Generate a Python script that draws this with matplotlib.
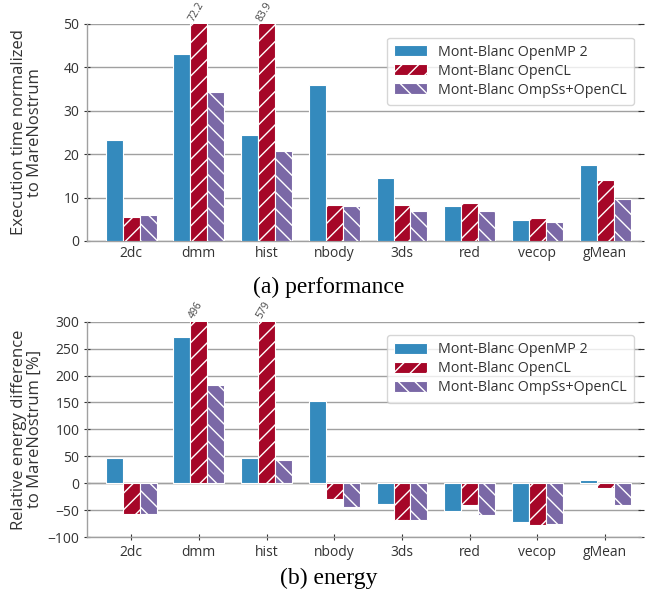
import numpy as np
import matplotlib
matplotlib.use('Agg')
import matplotlib.pyplot as plt

plt.rcParams['font.family'] = ['Open Sans', 'DejaVu Sans']
plt.rcParams['hatch.color'] = 'white'
plt.rcParams['hatch.linewidth'] = 1.0

benchmarks = ['2dc', 'dmm', 'hist', 'nbody', '3ds', 'red', 'vecop', 'gMean']
series = ['Mont-Blanc OpenMP 2', 'Mont-Blanc OpenCL', 'Mont-Blanc OmpSs+OpenCL']

perf_openmp = [23.2, 43.1, 24.5, 36.0, 14.4, 8.0, 4.9, 17.5]
perf_opencl = [5.5, 72.2, 83.9, 8.2, 8.2, 8.7, 5.4, 14.0]
perf_ompss = [5.9, 34.3, 20.8, 8.0, 6.9, 6.8, 4.3, 9.6]

energy_openmp = [47, 272, 47, 152, -39, -52, -72, 6]
energy_opencl = [-58, 496, 579, -29, -69, -41, -77, -9]
energy_ompss = [-57, 183, 43, -45, -68, -59, -75, -40]

colors = ['#348ABD', '#A60628', '#7A68A6']
hatches = ['', '//', '\\\\']

fig = plt.figure(figsize=(6.45, 5.98), dpi=100)
ax1 = fig.add_axes([0.135, 0.597, 0.859, 0.363])
ax2 = fig.add_axes([0.135, 0.102, 0.859, 0.360])


def draw(ax, data, ylim, yticks, ylabel, show_xticks):
    x = np.arange(len(benchmarks))
    w = 0.25
    for k, vals in enumerate(data):
        ax.bar(x + (k - 1) * w, vals, w, color=colors[k], hatch=hatches[k],
               edgecolor='white', linewidth=0.8, label=series[k], zorder=3)
        for i, v in enumerate(vals):
            if v > ylim[1]:
                ax.text(x[i] + (k - 1) * w - 0.04, ylim[1] + (ylim[1] - ylim[0]) * 0.004,
                        '%g' % v, rotation=60, ha='left', va='bottom',
                        fontsize=7.5, color='#444444', rotation_mode='anchor')
    ax.set_xlim(-0.65, 7.53)
    ax.set_ylim(*ylim)
    ax.set_yticks(yticks)
    ax.set_xticks(x)
    ax.set_xticklabels(benchmarks, fontsize=10, color='#333333')
    ax.tick_params(axis='y', labelsize=10, labelcolor='#333333', length=4,
                   color='#333333', right=True, direction='inout')
    if show_xticks:
        ax.tick_params(axis='x', length=5, color='#333333', direction='inout')
    else:
        ax.tick_params(axis='x', length=0)
    ax.grid(axis='y', color='#a0a0a0', linewidth=1.0, zorder=0)
    ax.set_axisbelow(True)
    for s in ['top', 'right']:
        ax.spines[s].set_visible(False)
    for s in ['left', 'bottom']:
        ax.spines[s].set_color('#a0a0a0')
        ax.spines[s].set_linewidth(1.0)
    ax.set_ylabel(ylabel, fontsize=12, color='#333333', linespacing=1.05)
    ax.yaxis.set_label_coords(-0.079, 0.5)
    leg = ax.legend(loc='upper right', fontsize=10.3, frameon=True, fancybox=True,
                    handlelength=2.3, handleheight=0.8, borderpad=0.5,
                    labelspacing=0.28, bbox_to_anchor=(1.0, 0.97))
    leg.get_frame().set_edgecolor('#cccccc')
    for t in leg.get_texts():
        t.set_color('#333333')


draw(ax1, [perf_openmp, perf_opencl, perf_ompss], (0, 50), [0, 10, 20, 30, 40, 50],
     'Execution time normalized\nto MareNostrum', False)
draw(ax2, [energy_openmp, energy_opencl, energy_ompss], (-100, 300),
     [-100, -50, 0, 50, 100, 150, 200, 250, 300],
     'Relative energy difference\nto MareNostrum [%]', True)
ax2.axhline(0, color='#a0a0a0', linewidth=1.0, zorder=1)

fig.text(0.51, 0.52, '(a) performance', family='Liberation Serif',
         fontsize=17, ha='center', va='center')
fig.text(0.51, 0.033, '(b) energy', family='Liberation Serif',
         fontsize=17, ha='center', va='center')

fig.savefig('out.png', dpi=100)
